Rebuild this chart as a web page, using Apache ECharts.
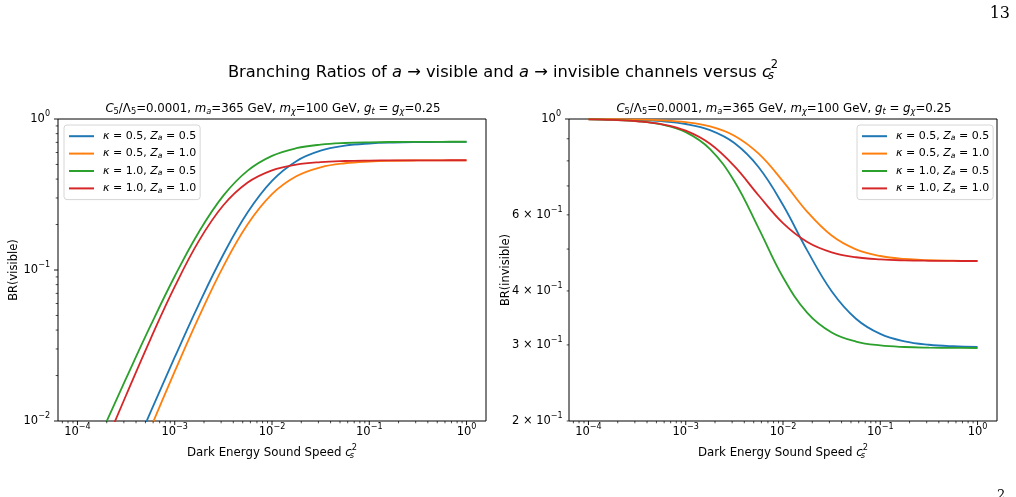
<!DOCTYPE html>
<html>
<head>
<meta charset="utf-8">
<script src="https://cdn.jsdelivr.net/npm/echarts@6/dist/echarts.min.js"></script>
<style>
html,body{margin:0;padding:0;background:#fff;}
#main{width:1016px;height:497px;}
</style>
</head>
<body>
<div id="main"></div>
<script>
// 横轴取样点 c_s^2 (每十倍程 4 个点)
var cs2 = [1e-4, 1.778e-4, 3.162e-4, 5.623e-4, 1e-3, 1.778e-3, 3.162e-3, 5.623e-3,
           1e-2, 1.778e-2, 3.162e-2, 5.623e-2, 1e-1, 0.1778, 0.3162, 0.5623, 1];

// 图例名称
var names = ['k05z05', 'k05z10', 'k10z05', 'k10z10'];
var colors = ['#1f77b4', '#ff7f0e', '#2ca02c', '#d62728'];

// BR(visible) 读图数值
var visK05Z05 = [0.000868, 0.002054, 0.00485, 0.0114, 0.02644, 0.0597, 0.1267, 0.2412, 0.3894, 0.5258, 0.6168, 0.6655, 0.6883, 0.6984, 0.7028, 0.7046, 0.7054];
var visK05Z10 = [0.000624, 0.001519, 0.003696, 0.008918, 0.02128, 0.04911, 0.1058, 0.2008, 0.3177, 0.4172, 0.4786, 0.5093, 0.5230, 0.5289, 0.5313, 0.5323, 0.5327];
var visK10Z05 = [0.003683, 0.008435, 0.01912, 0.0426, 0.09093, 0.1794, 0.3106, 0.4550, 0.5700, 0.6402, 0.6764, 0.6934, 0.7010, 0.7044, 0.7059, 0.7065, 0.7068];
var visK10Z10 = [0.002546, 0.006174, 0.01481, 0.03478, 0.07756, 0.1565, 0.2684, 0.3797, 0.4573, 0.4992, 0.5186, 0.5270, 0.5305, 0.5320, 0.5326, 0.5329, 0.5330];

// BR(invisible) 读图数值
var invK05Z05 = [0.99903, 0.99777, 0.99489, 0.98833, 0.97368, 0.94219, 0.87969, 0.7733, 0.63216, 0.49587, 0.39935, 0.34493, 0.3181, 0.30577, 0.30029, 0.29786, 0.29681];
var invK05Z10 = [0.99952, 0.99883, 0.99716, 0.99312, 0.98351, 0.96149, 0.91488, 0.83125, 0.71745, 0.60966, 0.53729, 0.49927, 0.48184, 0.47434, 0.4712, 0.4699, 0.46937];
var invK10Z05 = [0.99813, 0.99533, 0.98839, 0.97154, 0.9326, 0.8521, 0.718, 0.55853, 0.43036, 0.35593, 0.32059, 0.30542, 0.29918, 0.29667, 0.29567, 0.29527, 0.29511];
var invK10Z10 = [0.99786, 0.99495, 0.98817, 0.97279, 0.93968, 0.87628, 0.77762, 0.6651, 0.57414, 0.51907, 0.49133, 0.47865, 0.47311, 0.47074, 0.46974, 0.46932, 0.46914];

// 刻度
var xMajor = [1e-4, 1e-3, 1e-2, 1e-1, 1];
var xMajorLabels = ['−4', '−3', '−2', '−1', '0'];
var visMajor = [1e-2, 1e-1, 1];
var visMajorLabels = ['−2', '−1', '0'];
var invTicks = [0.2, 0.3, 0.4, 0.5, 0.6, 0.7, 0.8, 0.9, 1];
var invTickLabels = ['2', '3', '4', '', '6', '', '', '', ''];

var FONT = 'DejaVu Sans';
var xMin = Math.pow(10, -4.2), xMax = Math.pow(10, 0.2);
var yRange = [[0.01, 1], [0.2, 1]];

function richSet(size) {
  var s = size * 0.7, lh = size * 1.4;
  function st(o) {
    var b = {fontFamily: FONT, fontSize: size, fontWeight: 'normal', lineHeight: lh, color: '#000', fill: '#000'};
    for (var k in o) b[k] = o[k];
    return b;
  }
  return {
    n: st({}),
    i: st({fontStyle: 'italic'}),
    k: st({fontStyle: 'italic', padding: [0, 0, 0, 4]}),
    sup: st({fontSize: s, padding: [0, 0, size * 0.85, 0]}),
    sub: st({fontSize: s, padding: [size * 0.4, 0, 0, 0]}),
    isub: st({fontSize: s, fontStyle: 'italic', padding: [size * 0.4, 0, 0, 0]}),
    isub0: st({fontSize: s, fontStyle: 'italic', width: 0, padding: [size * 0.45, 0, 0, 0]})
  };
}
var R11 = richSet(11.5);
var legendText = {
  k05z05: '{k|κ}{n| = 0.5, }{i|Z}{isub|a}{n| = 0.5}',
  k05z10: '{k|κ}{n| = 0.5, }{i|Z}{isub|a}{n| = 1.0}',
  k10z05: '{k|κ}{n| = 1.0, }{i|Z}{isub|a}{n| = 0.5}',
  k10z10: '{k|κ}{n| = 1.0, }{i|Z}{isub|a}{n| = 1.0}'
};
var csText = '{i|c}{isub0|s}{sup|2}';
var subTitle = '{i|C}{sub|5}{n|/Λ}{sub|5}{n|=0.0001, }{i|m}{isub|a}{n|=365 GeV, }{i|m}{isub|χ}' +
  '{n|=100 GeV, }{i|g}{isub|t}{n| = }{i|g}{isub|χ}{n|=0.25}';

// 刻度与刻度标签：通过坐标轴换算位置
function tickLayer(gi, dim, ticks) {
  return {
    type: 'custom', xAxisIndex: gi, yAxisIndex: gi, silent: true, clip: false, z: 10,
    data: ticks.map(function (t) { return dim === 'x' ? [t.v, yRange[gi][0]] : [xMin, t.v]; }),
    renderItem: function (params, api) {
      var t = ticks[params.dataIndex];
      var p = api.coord([api.value(0), api.value(1)]);
      var len = t.major ? 4 : 2.3, lw = t.major ? 0.9 : 0.7;
      var kids = [];
      if (dim === 'x') {
        kids.push({type: 'line', shape: {x1: p[0], y1: p[1], x2: p[0], y2: p[1] + len}, style: {stroke: '#000', lineWidth: lw}});
        if (t.label) kids.push({type: 'text', x: p[0], y: p[1] + len - 1,
          style: {text: t.label, rich: R11, align: 'center', verticalAlign: 'top'}});
      } else {
        kids.push({type: 'line', shape: {x1: p[0] - len, y1: p[1], x2: p[0], y2: p[1]}, style: {stroke: '#000', lineWidth: lw}});
        if (t.label) kids.push({type: 'text', x: p[0] - len - 4, y: p[1],
          style: {text: t.label, rich: R11, align: 'right', verticalAlign: 'middle'}});
      }
      return {type: 'group', children: kids};
    }
  };
}

function logTicks(lo, hi, major, majorLabels) {
  var out = [];
  for (var e = -5; e <= 0; e++) {
    for (var m = 1; m <= 9; m++) {
      var v = m * Math.pow(10, e);
      if (v < lo * 0.999 || v > hi * 1.001) continue;
      var idx = m === 1 ? major.indexOf(Number(v.toPrecision(6))) : -1;
      out.push({v: v, major: m === 1, label: idx >= 0 ? '{n|10}{sup|' + majorLabels[idx] + '}' : ''});
    }
  }
  return out;
}
var xTicks = logTicks(xMin, xMax, xMajor, xMajorLabels);
var visTicks = logTicks(0.01, 1, visMajor, visMajorLabels);
var invTickList = invTicks.map(function (v, i) {
  if (v === 1) return {v: v, major: true, label: '{n|10}{sup|0}'};
  return {v: v, major: false, label: invTickLabels[i] ? '{n|' + invTickLabels[i] + ' × 10}{sup|−1}' : ''};
});

var myChart = echarts.init(document.getElementById('main'));

function lineSeries(gi, name, vals, color) {
  return {
    name: name, type: 'line', xAxisIndex: gi, yAxisIndex: gi,
    data: cs2.map(function (x, i) { return [x, vals[i]]; }),
    symbol: 'none', smooth: 0.4, clip: true,
    lineStyle: {color: color, width: 1.8}, itemStyle: {color: color}
  };
}
var visSets = [visK05Z05, visK05Z10, visK10Z05, visK10Z10];
var invSets = [invK05Z05, invK05Z10, invK10Z05, invK10Z10];
var series = [];
names.forEach(function (n, i) { series.push(lineSeries(0, n, visSets[i], colors[i])); });
names.forEach(function (n, i) { series.push(lineSeries(1, n, invSets[i], colors[i])); });
series.push(tickLayer(0, 'x', xTicks), tickLayer(0, 'y', visTicks),
            tickLayer(1, 'x', xTicks), tickLayer(1, 'y', invTickList));

var R12 = richSet(11.8);
function axisX(gi) {
  return {
    type: 'log', gridIndex: gi, min: xMin, max: xMax,
    axisLine: {show: false}, axisTick: {show: false}, axisLabel: {show: false}, splitLine: {show: false},
    name: '{n|Dark Energy Sound Speed }' + csText, nameLocation: 'middle', nameGap: 24,
    nameTextStyle: {rich: R12}
  };
}
function axisY(gi, name, gap) {
  return {
    type: 'log', gridIndex: gi, min: yRange[gi][0], max: yRange[gi][1],
    axisLine: {show: false}, axisTick: {show: false}, axisLabel: {show: false}, splitLine: {show: false},
    name: name, nameLocation: 'middle', nameGap: gap, nameRotate: 90,
    nameTextStyle: {fontFamily: FONT, fontSize: 11.5, color: '#000'}
  };
}
var RL = richSet(11);
function legendAt(pos) {
  var l = {
    orient: 'vertical', top: 125, data: names, itemWidth: 25, itemHeight: 14, itemGap: 5,
    padding: [5, 4, 5, 4], backgroundColor: '#fff', borderColor: '#d6d6d6', borderWidth: 1, borderRadius: 3,
    itemStyle: {opacity: 0},
    formatter: function (n) { return legendText[n]; },
    textStyle: {rich: RL}
  };
  for (var k in pos) l[k] = pos[k];
  return l;
}

var option = {
  animation: false,
  backgroundColor: '#fff',
  title: [
    {text: '{n|Branching Ratios of }{i|a}{n| → visible and }{i|a}{n| → invisible channels versus }{i|c}{isub0|s}{sup|2}',
     left: 498, top: 56, textAlign: 'center', textStyle: {rich: richSet(16.3)}},
    {text: subTitle, left: 268, top: 96, textAlign: 'center', textStyle: {rich: richSet(11.8)}},
    {text: subTitle, left: 779, top: 96, textAlign: 'center', textStyle: {rich: richSet(11.8)}}
  ],
  graphic: [
    {type: 'text', right: 6, top: 6, style: {text: '13', fontFamily: 'DejaVu Serif', fontSize: 16, fill: '#000'}},
    {type: 'text', left: 997, top: 489, style: {text: '2', fontFamily: 'DejaVu Serif', fontSize: 13, fill: '#000'}}
  ],
  legend: [legendAt({left: 64}), legendAt({left: 857})],
  grid: [
    {left: 58, top: 119, width: 428, height: 302, show: true, borderColor: '#000', borderWidth: 1, backgroundColor: 'transparent'},
    {left: 569, top: 119, width: 428, height: 302, show: true, borderColor: '#000', borderWidth: 1, backgroundColor: 'transparent'}
  ],
  xAxis: [axisX(0), axisX(1)],
  yAxis: [axisY(0, 'BR(visible)', 38), axisY(1, 'BR(invisible)', 57)],
  series: series
};
myChart.setOption(option);
window.addEventListener('resize', function () { myChart.resize(); });
</script>
</body>
</html>
